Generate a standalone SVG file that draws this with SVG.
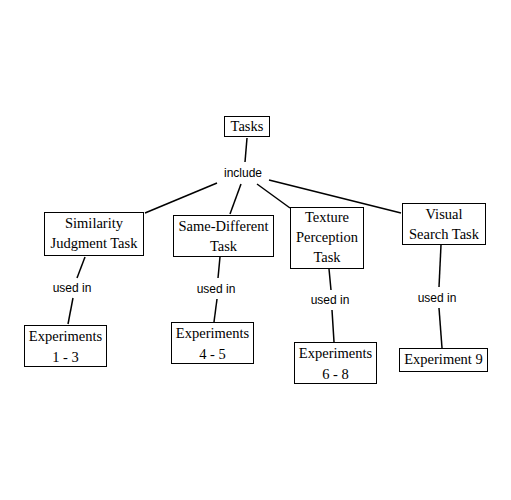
<svg xmlns="http://www.w3.org/2000/svg" width="511" height="500" viewBox="0 0 511 500">
<style>
.box{fill:#fff;stroke:#000;stroke-width:1}
.t{font-family:"Liberation Serif","Times New Roman",serif;font-size:14.5px;fill:#000;text-anchor:middle}
.l{font-family:"Liberation Sans",Arial,sans-serif;font-size:12px;fill:#000;text-anchor:middle}
.c line{stroke:#000;stroke-width:1.5}
</style>
<rect width="511" height="500" fill="#fff"/>
<g id="connectors" class="c">
<line x1="247" y1="138" x2="245" y2="162"/>
<line x1="217" y1="183" x2="145" y2="213"/>
<line x1="241" y1="184" x2="230" y2="214"/>
<line x1="257" y1="184" x2="290" y2="208"/>
<line x1="269" y1="180" x2="401" y2="213"/>
<line x1="85" y1="257" x2="77" y2="278"/>
<line x1="73" y1="298" x2="68" y2="324"/>
<line x1="220" y1="257" x2="218" y2="278"/>
<line x1="217" y1="299" x2="214" y2="322"/>
<line x1="329" y1="269" x2="331" y2="290"/>
<line x1="332" y1="310" x2="334" y2="342"/>
<line x1="441" y1="245" x2="439" y2="287"/>
<line x1="439" y1="308" x2="442" y2="348"/>
<text class="l" x="243" y="177">include</text>
<text class="l" x="72" y="292">used in</text>
<text class="l" x="216" y="293">used in</text>
<text class="l" x="330" y="304">used in</text>
<text class="l" x="437" y="302">used in</text>
</g>
<g id="tasks">
<rect class="box" x="224.5" y="116.5" width="45" height="20"/>
<text class="t" x="247" y="131">Tasks</text>
</g>
<g id="similarity">
<rect class="box" x="44.5" y="212.5" width="99" height="43"/>
<text class="t" x="94" y="228">Similarity</text>
<text class="t" x="94" y="248">Judgment Task</text>
</g>
<g id="samediff">
<rect class="box" x="173.5" y="215.5" width="100" height="41"/>
<text class="t" x="223.5" y="231">Same-Different</text>
<text class="t" x="223.5" y="251">Task</text>
</g>
<g id="texture">
<rect class="box" x="290.5" y="207.5" width="73" height="61"/>
<text class="t" x="327" y="222">Texture</text>
<text class="t" x="327" y="242">Perception</text>
<text class="t" x="327" y="262">Task</text>
</g>
<g id="visual">
<rect class="box" x="402.5" y="203.5" width="83" height="41"/>
<text class="t" x="444" y="219">Visual</text>
<text class="t" x="444" y="239">Search Task</text>
</g>
<g id="exp13">
<rect class="box" x="24.5" y="325.5" width="82" height="41"/>
<text class="t" x="65.5" y="341">Experiments</text>
<text class="t" x="65.5" y="362">1 - 3</text>
</g>
<g id="exp45">
<rect class="box" x="171.5" y="322.5" width="82" height="41"/>
<text class="t" x="212.5" y="338">Experiments</text>
<text class="t" x="212.5" y="359">4 - 5</text>
</g>
<g id="exp68">
<rect class="box" x="294.5" y="342.5" width="82" height="41"/>
<text class="t" x="335.5" y="358">Experiments</text>
<text class="t" x="335.5" y="379">6 - 8</text>
</g>
<g id="exp9">
<rect class="box" x="399.5" y="348.5" width="88" height="23"/>
<text class="t" x="443.5" y="364">Experiment 9</text>
</g>
</svg>
